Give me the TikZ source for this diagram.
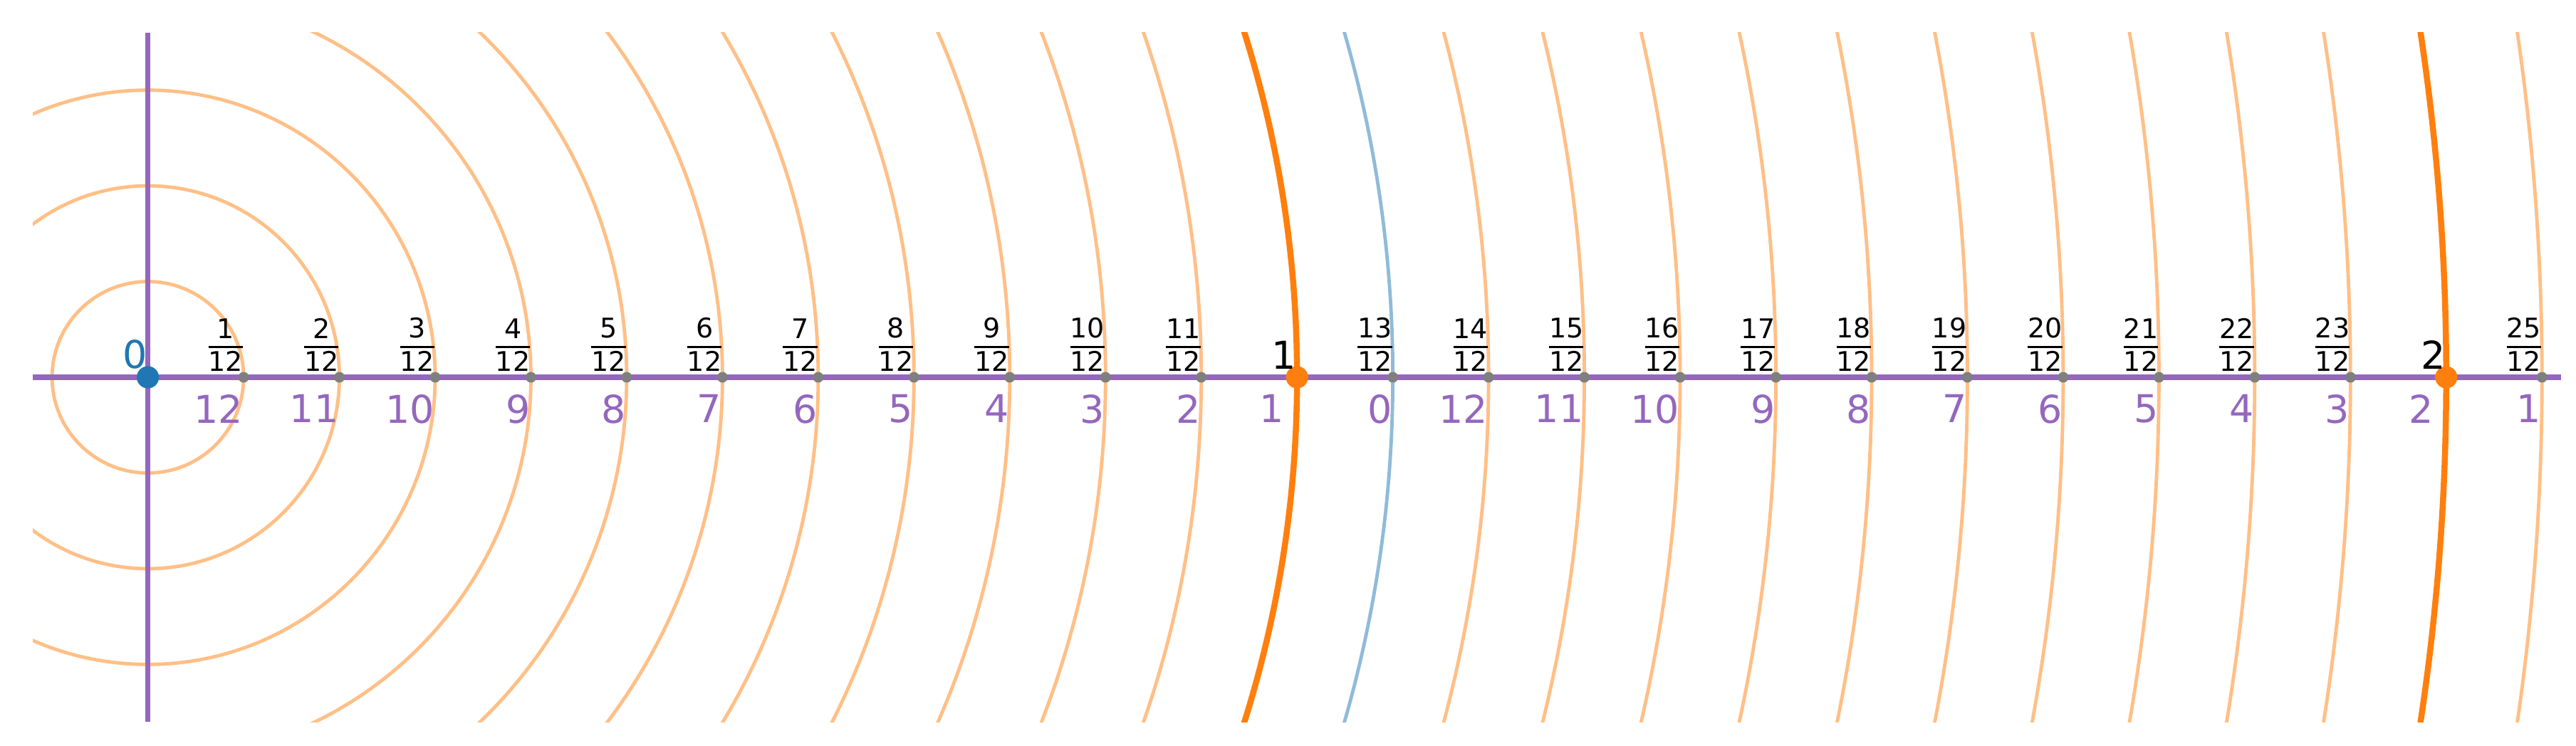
\documentclass[tikz,border=0pt]{standalone}
\usepackage{fontspec}
\setmainfont{DejaVu Sans}
\definecolor{tabblue}{HTML}{1F77B4}
\definecolor{taborange}{HTML}{FF7F0E}
\definecolor{tabpurple}{HTML}{9467BD}
\definecolor{tabgray}{HTML}{7F7F7F}
\newcommand{\myfr}[2]{\setbox0\hbox{#2}\vbox{\hbox to\wd0{\hss#1\hss}\kern1.85pt\hrule height 0.53pt\kern0.85pt\box0}}
\begin{document}
\begin{tikzpicture}[x=10cm,y=10cm,
  ringthin/.style={draw=taborange!50!white, line width=0.85pt},
  ringbold/.style={draw=taborange, line width=1.5pt},
  ringblue/.style={draw=tabblue!50!white, line width=0.85pt},
  axisline/.style={draw=tabpurple, line width=1.25pt},
  tickdot/.style={circle, fill=tabgray, inner sep=0pt, minimum size=2.64pt},
  bigdot/.style={circle, inner sep=0pt, minimum size=5.5pt},
  botlab/.style={anchor=north east, inner sep=0pt, text=tabpurple, font=\fontsize{9.5}{11}\selectfont},
  toplab/.style={anchor=south east, inner sep=0pt, font=\fontsize{9.5}{11}\selectfont},
  fraclab/.style={anchor=south east, inner sep=0pt, font=\fontsize{6.7}{8}\selectfont}]
\useasboundingbox (-0.12866,-0.32040) rectangle (2.11291,0.32846);
\begin{scope}
  \clip (-0.1,-0.3) rectangle (2.1,0.3);
  \foreach \k in {1,...,11,14,15,...,23,25} {
    \draw[ringthin] (0,0) circle ({\k/12});
  }
  \draw[ringbold] (0,0) circle (1);
  \draw[ringbold] (0,0) circle (2);
  \draw[ringblue] (0,0) circle ({13/12});
\end{scope}
\coordinate (xl) at (-0.1,0);
\coordinate (xr) at (2.1,0);
\coordinate (yb) at (0,-0.3);
\coordinate (yt) at (0,0.3);
\draw[axisline] (xl) -- (xr);
\draw[axisline] (yb) -- (yt);
% grey tick dots and fraction labels
\foreach \k in {1,...,11,13,14,...,23,25} {
  \node[tickdot] (d\k) at ({\k/12},0) {};
  \node[fraclab] (f\k) at ({\k/12},0.00434) {\myfr{\k}{12}};
}
% purple labels below
\foreach \k/\lab in {1/12,2/11,3/10,4/9,5/8,6/7,7/6,8/5,9/4,10/3,11/2,13/0,14/12,15/11,16/10,17/9,18/8,19/7,20/6,21/5,22/4,23/3,25/1} {
  \node[botlab] (b\k) at ({\k/12},-0.01425) {\lab};
}
\node[botlab, xshift=-3pt] (b12) at (1,-0.01425) {1};
\node[botlab, xshift=-3pt] (b24) at (2,-0.01425) {2};
% integer points
\node[bigdot, fill=tabblue] (p0) at (0,0) {};
\node[bigdot, fill=taborange] (p1) at (1,0) {};
\node[bigdot, fill=taborange] (p2) at (2,0) {};
\node[toplab, text=tabblue] (l0) at (0,0.0068) {0};
\node[toplab] (l1) at (1,0.0062) {1};
\node[toplab] (l2) at (2,0.0062) {2};
\end{tikzpicture}
\end{document}
